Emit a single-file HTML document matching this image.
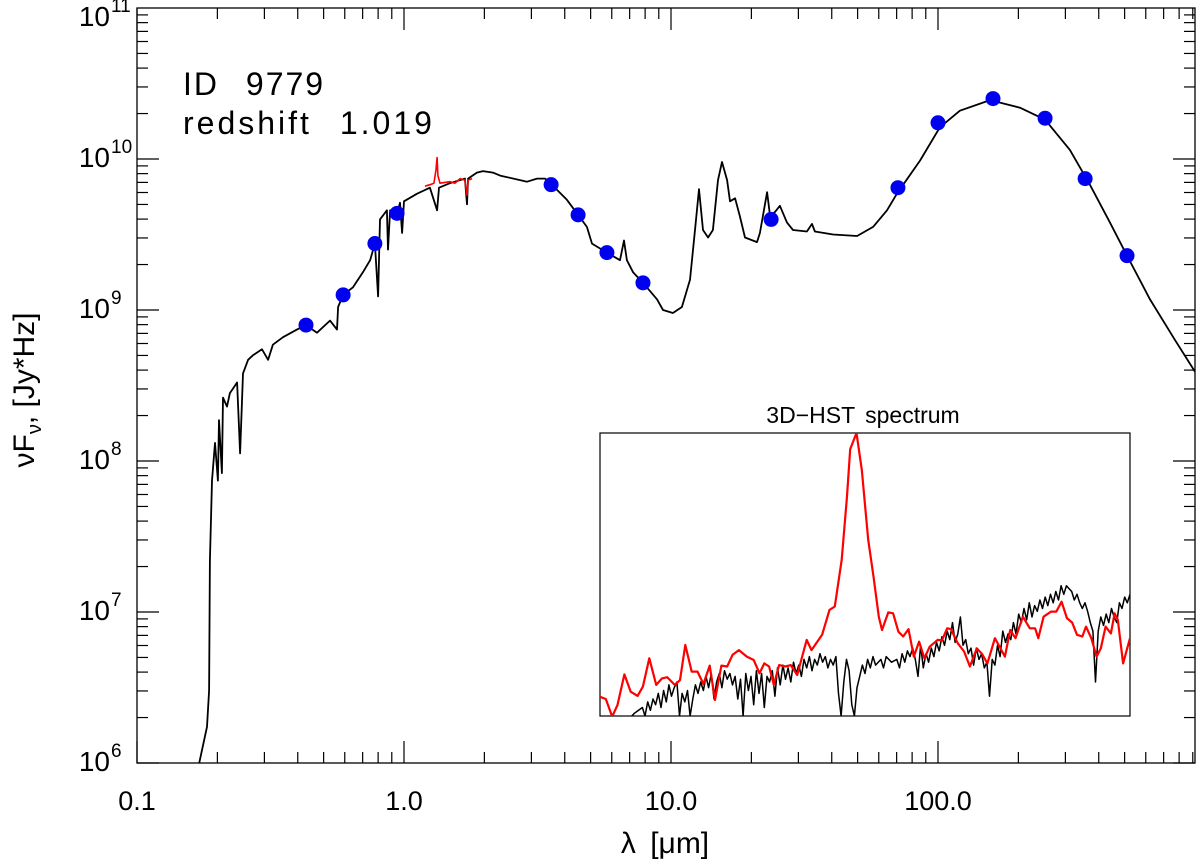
<!DOCTYPE html>
<html><head><meta charset="utf-8">
<style>
html,body{margin:0;padding:0;background:#fff;}
svg{display:block;font-family:"Liberation Sans",sans-serif;}
</style></head>
<body>
<svg id="chart" width="1200" height="865" viewBox="0 0 1200 865"></svg>
<script>
// SED model (log10 wavelength [um], log10 nuFnu [Jy*Hz])
const sedLogLam = [-0.768,-0.738,-0.730,-0.727,-0.719,-0.708,-0.697,-0.693,-0.682,-0.678,-0.663,-0.652,-0.625,-0.614,-0.603,-0.584,-0.566,-0.532,-0.509,-0.491,-0.453,-0.401,-0.367,-0.326,-0.277,-0.251,-0.247,-0.228,-0.191,-0.154,-0.127,-0.109,-0.097,-0.090,-0.064,-0.060,-0.052,-0.026,-0.015,-0.007,0,0.049,0.097,0.124,0.131,0.172,0.228,0.236,0.240,0.273,0.296,0.333,0.360,0.461,0.498,0.528,0.554,0.610,0.652,0.685,0.704,0.760,0.809,0.824,0.835,0.858,0.895,0.948,0.970,1.007,1.041,1.071,1.090,1.105,1.120,1.139,1.157,1.176,1.191,1.210,1.221,1.240,1.258,1.277,1.322,1.333,1.360,1.371,1.390,1.408,1.434,1.457,1.509,1.528,1.539,1.607,1.697,1.757,1.809,1.846,1.933,2.007,2.082,2.195,2.307,2.401,2.494,2.569,2.644,2.708,2.794,2.888,2.963];
const sedLogF = [5.99,6.24,6.48,7.34,7.87,8.12,7.87,8.27,7.92,8.42,8.36,8.45,8.52,8.05,8.58,8.67,8.70,8.74,8.67,8.77,8.82,8.87,8.90,8.85,8.93,8.87,9.02,9.10,9.15,9.25,9.33,9.44,9.09,9.60,9.66,9.40,9.66,9.64,9.71,9.51,9.72,9.77,9.81,9.66,9.81,9.84,9.87,9.70,9.87,9.91,9.92,9.91,9.89,9.85,9.87,9.87,9.83,9.73,9.63,9.55,9.44,9.38,9.33,9.46,9.33,9.25,9.18,9.07,9.00,8.98,9.02,9.20,9.53,9.80,9.53,9.48,9.53,9.86,9.98,9.86,9.72,9.74,9.62,9.48,9.45,9.51,9.78,9.62,9.65,9.69,9.58,9.53,9.52,9.57,9.52,9.50,9.49,9.55,9.66,9.77,9.99,10.21,10.32,10.39,10.34,10.26,10.06,9.83,9.58,9.36,9.07,8.80,8.59];
// Observed spectrum segment (red)
const obsLogLam = [0.079,0.097,0.112,0.120,0.124,0.127,0.135,0.172,0.191,0.210,0.228,0.236,0.240,0.255];
const obsLogF = [9.82,9.83,9.84,9.93,10.01,9.89,9.84,9.85,9.84,9.87,9.86,9.76,9.86,9.87];
// Photometry
const photLogLam = [-0.367,-0.228,-0.109,-0.026,0.551,0.652,0.760,0.895,1.375,1.850,2.000,2.206,2.401,2.551,2.708];
const photLogF = [8.90,9.10,9.44,9.64,9.83,9.63,9.38,9.18,9.60,9.81,10.24,10.40,10.27,9.87,9.36];
// Inset (normalized units 0-100)
const insRedX = [0,1.1,2.3,3.3,4.6,5.8,7.1,8.1,9.3,10.6,11.7,12.7,14.1,15.1,16.1,17.3,18.4,19.5,20.7,21.7,22.9,24.0,25.0,26.2,27.7,29.0,30.1,31.0,31.9,32.8,33.8,35.0,36.0,37.2,39.0,39.9,41.9,43.3,44.3,45.6,46.6,47.2,48.4,49.4,50.6,51.6,52.6,53.2,54.4,55.3,56.3,57.2,58.2,59.2,60.2,61.2,62.2,63.7,64.5,65.5,66.2,67.5,68.7,69.8,71.1,72.1,73.1,74.5,75.4,76.4,77.4,78.4,79.8,81.1,82.1,82.7,83.7,85.1,86.1,87.1,88.1,89.1,90.0,91.0,91.7,92.7,93.7,94.5,95.4,96.4,97.1,97.7,98.7,100];
const insRedY = [6.8,6.0,-0.2,3.9,14.7,8.6,7.1,10.4,20.4,11.0,13.3,13.7,11.0,12.7,25.1,15.7,15.7,11.3,17.8,5.7,17.8,17.5,21.6,23.3,21.0,19.8,15.1,18.6,17.5,11.0,18.0,17.5,18.0,14.5,26.9,23.3,28.7,37.5,38.7,55.2,77.6,94.3,100,87.0,62.3,49.3,35.1,30.4,36.6,36.3,29.8,28.1,30.7,21.0,26.3,20.4,24.5,26.9,26.7,31.0,30.7,25.7,22.8,17.5,23.9,21.9,18.6,27.5,24.5,21.0,30.4,27.5,35.1,31.0,31.0,27.5,35.1,36.9,36.9,40.4,34.6,33.0,28.7,28.1,31.6,27.5,21.0,23.9,31.6,29.2,36.3,34.0,18.6,27.5];
const insBlkX = [6,6.5,8,8.5,9,9.5,10,10.5,11,11.5,12,12.5,13,13.5,14,14.5,15,15.5,16,16.5,17,17.5,18,18.5,19,19.5,20,20.5,21,21.5,22,22.5,23,23.5,24,24.5,25,25.5,26,26.5,27,27.5,28,28.5,29,29.5,30,30.5,31,31.5,32,32.5,33,33.5,34,34.5,35,35.5,36,36.5,37,37.5,38,38.5,39,39.5,40,40.5,41,41.5,42,42.5,43,43.5,44,44.5,45,45.5,46,46.5,47,47.5,48,48.5,49,49.5,50,50.5,51,51.5,52,53,53.5,54,55,56,56.5,57,57.5,58,58.5,59,59.5,60,60.5,61,61.5,62,62.5,63,63.5,64,64.5,65,65.5,66,66.5,67,67.5,68,68.5,69,69.5,70,70.5,71,71.5,72,72.5,73,73.5,74,74.5,75,75.5,76,76.5,77,77.5,78,78.5,79,79.5,80,80.5,81,81.5,82,82.5,83,83.5,84,84.5,85,85.5,86,86.5,87,87.5,88,88.5,89,89.5,90,90.5,91,91.5,92,92.5,93,93.5,94,94.5,95,95.5,96,96.5,97,97.5,98,98.5,99,99.5,100];
const insBlkY = [0,1,3,0,5,2,6,4,8,3,9,5,11,7,10,12,0,8,5,9,0,6,11,8,12,9,14,10,15,6,12,15,10,16,13,15,11,14,6,13,0,15,9,14,4,16,8,15,3,14,12,16,7,17,11,18,13,17,12,19,15,18,14,20,17,21,16,20,18,22,19,21,17,20,18,21,8,0,12,20,16,4,0,10,14,18,15,20,17,21,18,20,17,21,19,20,17,22,19,23,21,24,20,14,25,17,22,19,24,21,26,23,28,25,30,27,33,26,29,35,25,27,22,24,18,24,20,22,17,19,7,20,18,25,21,30,26,29,27,33,29,36,33,38,34,40,35,39,37,41,38,42,39,43,40,44,41,46,43,46,45,44,41,43,40,38,40,37,33,30,12,30,35,32,36,33,38,35,33,40,38,42,40,43];
const xTickLabels = ["0.1","1.0","10.0","100.0"];
const xTickDecades = [-1,0,1,2];
const yTickExps = [6,7,8,9,10,11];

const NS="http://www.w3.org/2000/svg";
const svg=document.getElementById('chart');
const L=137,R=1195,T=8,B=763;
const X0=-1, X1=-1+(R-L)/267, Y0=6, Y1=11;
const sx=v=>L+(v-X0)/(X1-X0)*(R-L);
const sy=v=>B-(v-Y0)/(Y1-Y0)*(B-T);
function mk(tag,attrs,parent){const e=document.createElementNS(NS,tag);for(const k in attrs)e.setAttribute(k,attrs[k]);(parent||svg).appendChild(e);return e;}

const defs=mk('defs',{});
const cp=mk('clipPath',{id:'plotclip'},defs);mk('rect',{x:L,y:T,width:R-L,height:B-T},cp);
const cp2=mk('clipPath',{id:'insclip'},defs);

const frame=mk('rect',{x:L,y:T,width:R-L,height:B-T,fill:'none',stroke:'#000','stroke-width':1.3});



const xt=mk('g',{stroke:'#000','stroke-width':1.2});


for(let d=-1;d<=2;d++){for(let m=1;m<=9;m++){const v=d+Math.log10(m);if(v>X1)continue;const x=sx(v);const len=m===1?22:11;
mk('line',{x1:x,y1:B,x2:x,y2:B-len},xt);mk('line',{x1:x,y1:T,x2:x,y2:T+len},xt);}}
xTickDecades.forEach((d,i)=>{const t=mk('text',{x:sx(d),y:810,'font-size':27,'text-anchor':'middle'});t.textContent=xTickLabels[i];

});
const yt=mk('g',{stroke:'#000','stroke-width':1.2});


for(let d=6;d<=10;d++){for(let m=1;m<=9;m++){const v=d+Math.log10(m);const y=sy(v);const len=m===1?22:11;
mk('line',{x1:L,y1:y,x2:L+len,y2:y},yt);mk('line',{x1:R,y1:y,x2:R-len,y2:y},yt);}}
yTickExps.forEach(e=>{const by=Math.max(sy(e)+8,26);const t=mk('text',{x:110,y:by,'font-size':28,'text-anchor':'end'});t.textContent='10';


const s=mk('text',{x:111,y:by-14,'font-size':19});s.textContent=String(e);});

const xl=mk('text',{x:665,y:853,'font-size':30,'text-anchor':'middle','word-spacing':6});xl.textContent='λ [μm]';


const yl=mk('text',{transform:'translate(34,390) rotate(-90)','font-size':30,'text-anchor':'middle'});
yl.innerHTML='νF<tspan font-size="20" dy="7">ν</tspan><tspan dy="-7">, [Jy*Hz]</tspan>';



const a1=mk('text',{x:183,y:95,'font-size':32,'letter-spacing':2,'word-spacing':16});a1.textContent='ID 9779';


const a2=mk('text',{x:183,y:134,'font-size':32,'letter-spacing':3,'word-spacing':16});a2.textContent='redshift 1.019';



function line(xs,ys,fx,fy,color,w,clip,name){const p=xs.map((v,i)=>fx(v).toFixed(1)+','+fy(ys[i]).toFixed(1)).join(' ');
const e=mk('polyline',{points:p,fill:'none',stroke:color,'stroke-width':w,'stroke-linejoin':'round','clip-path':'url(#'+clip+')'});

return e;}
line(sedLogLam,sedLogF,sx,sy,'#000',1.8,'plotclip','sed-model-line');
line(obsLogLam,obsLogF,sx,sy,'#f00',1.6,'plotclip','observed-spectrum-line');
photLogLam.forEach((v,i)=>{const c=mk('circle',{cx:sx(v),cy:sy(photLogF[i]),r:7.5,fill:'#0000f0'});

});

const IL=600,IR=1130,IT=433,IB=716;
mk('rect',{x:IL,y:IT,width:IR-IL,height:IB-IT},cp2);
const ibg=mk('rect',{x:IL,y:IT,width:IR-IL,height:IB-IT,fill:'#fff',stroke:'#000','stroke-width':1.2});


const ix=v=>IL+v/100*(IR-IL), iy=v=>IB-v/100*(IB-IT);
line(insBlkX,insBlkY,ix,iy,'#000',1.5,'insclip','inset-model-line');
line(insRedX,insRedY,ix,iy,'#f00',2.2,'insclip','inset-grism-line');
const it=mk('text',{x:863,y:423,'font-size':23,'text-anchor':'middle','word-spacing':4});it.textContent='3D−HST spectrum';


</script>
</body></html>
